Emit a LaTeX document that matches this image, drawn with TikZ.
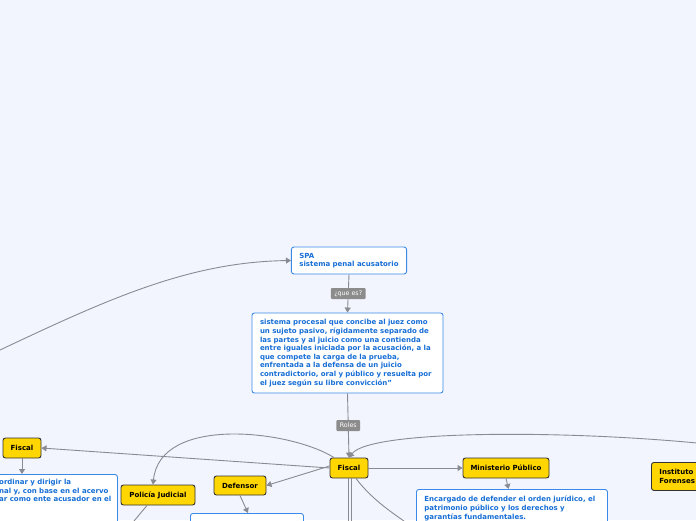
\documentclass[tikz,border=0pt]{standalone}
\usepackage{fontspec}
\setmainfont{DejaVu Sans}
\usetikzlibrary{arrows.meta}
\definecolor{bgc}{RGB}{242,245,254}
\definecolor{ylw}{RGB}{255,214,0}
\definecolor{bdr}{RGB}{51,51,51}
\definecolor{bbord}{RGB}{59,138,232}
\definecolor{btext}{RGB}{22,110,214}
\definecolor{conn}{RGB}{138,138,146}
\definecolor{lblc}{RGB}{140,140,140}
\tikzset{
  ybox/.style={draw=bdr, line width=0.9pt, fill=ylw, rounded corners=2.5pt, font=\fontsize{7}{8.6}\selectfont\bfseries, text=black, inner sep=0pt},
  bbox/.style={draw=bbord, line width=0.9pt, fill=white, rounded corners=2.5pt, font=\fontsize{7}{8.6}\selectfont\bfseries, text=btext, align=left, inner xsep=8pt, inner ysep=0pt},
  lbl/.style={fill=lblc, rounded corners=1pt, text=white, font=\fontsize{6.3}{7}\selectfont, minimum height=11pt, inner xsep=3.5pt, inner ysep=0pt},
  con/.style={draw=conn, line width=0.9pt},
  arr/.style={con, -{Triangle[length=5pt,width=6pt]}},
}
\begin{document}
\begin{tikzpicture}[x=1pt,y=-1pt]
\useasboundingbox[fill=bgc] (0,0) rectangle (696,520);
\begin{scope}
\clip (0,0) rectangle (696,520);
% blue boxes
\node[bbox, minimum width=114pt, minimum height=27pt] (spa) at (349,260.5) {SPA\\sistema penal acusatorio};
\node[bbox, minimum width=191pt, minimum height=80pt, text width=175pt] (def) at (347.5,353) {sistema procesal que concibe al juez como\\un sujeto pasivo, rígidamente separado de\\las partes y al juicio como una contienda\\entre iguales iniciada por la acusación, a la\\que compete la carga de la prueba,\\enfrentada a la defensa de un juicio\\contradictorio, oral y público y resuelta por\\el juez según su libre convicción”};
\node[bbox, anchor=north west, minimum width=157pt, minimum height=60pt, text width=141pt] (fdesc) at (-40,474) {};
\node[font=\fontsize{7}{8.6}\selectfont\bfseries, text=btext, align=left, anchor=north west, inner sep=0pt] (fdesctext) at (-1,479) {ordinar y dirigir la\\nal y, con base en el acervo\\ar como ente acusador en el};
\node[bbox, anchor=north west, minimum width=113pt, minimum height=30pt] (ddesc) at (190,513) {};
\node[bbox, anchor=north west, minimum width=191pt, minimum height=45pt, text width=175pt, inner ysep=6pt, align=left] (mdesc) at (416,489) {Encargado de defender el orden jurídico, el\\patrimonio público y los derechos y\\garantías fundamentales.\\\ };
% yellow boxes
\node[ybox, minimum width=38pt, minimum height=20pt] (fiscal) at (349,468) {Fiscal};
\node[ybox, minimum width=38pt, minimum height=20pt] (fiscalL) at (22,448) {Fiscal};
\node[ybox, minimum width=74pt, minimum height=20pt] (poli) at (158,495) {Policía Judicial};
\node[ybox, minimum width=52pt, minimum height=19pt] (defe) at (240,485.5) {Defensor};
\node[ybox, minimum width=86pt, minimum height=20pt] (mp) at (506,468) {Ministerio Público};
\node[ybox, anchor=north west, minimum width=70pt, minimum height=28pt, align=left, inner xsep=8pt, text width=54pt] (inst) at (651,462) {Instituto\\Forenses};
% labels and connectors
\coordinate (farL) at (0,350);
\coordinate (farR) at (697,443);
\coordinate (d1) at (348,521);
\coordinate (d2) at (351,521);
\coordinate (d3) at (404,521);
\coordinate (d4) at (134,521);
\draw[arr] (farL) .. controls (110,298) and (190,262) .. (spa.west);
\draw[arr] (spa.south) -- node[lbl] {¿que es?} (def.north);
\draw[arr] (def.south) -- node[lbl, pos=0.5] {Roles} (fiscal.north);
\draw[arr] (fiscal.west) -- (fiscalL.east);
\draw[arr] ([xshift=-15pt]fiscal.north) .. controls (290,430) and (160,415) .. ([xshift=-5pt]poli.north);
\draw[arr] ([yshift=2pt]fiscal.west) -- (defe.east);
\draw[arr] (defe.south) -- ([xshift=1pt]ddesc.north);
\draw[arr] (fiscalL.south) -- (fiscalL.south |- fdesc.north);
\draw[arr] (fiscal.east) -- (mp.west);
\draw[arr] (mp.south) -- ([xshift=2.5pt]mp.south |- mdesc.north);
\draw[arr] (farR) .. controls (560,430) and (370,430) .. (fiscal.north);
\draw[con] ([xshift=-1pt]fiscal.south) -- (d1);
\draw[con] ([xshift=2pt]fiscal.south) -- (d2);
\draw[con] ([xshift=7pt]fiscal.south) .. controls (370,497) and (388,510) .. (d3);
\draw[con] ([xshift=-11pt]poli.south) -- (d4);
\end{scope}
\end{tikzpicture}
\end{document}
